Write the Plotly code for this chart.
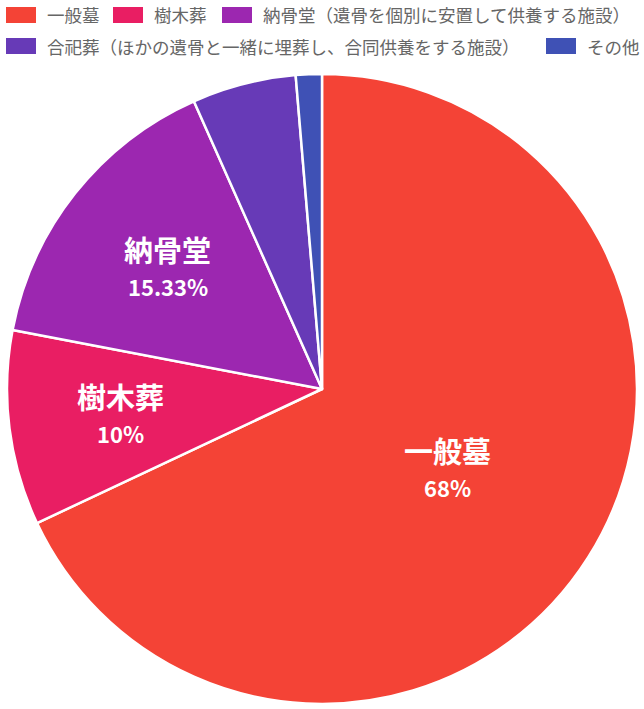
import math
import plotly.graph_objects as go

# 供養の方法（割合）
labels = [
    "一般墓",
    "樹木葬",
    "納骨堂（遺骨を個別に安置して供養する施設）",
    "合祀葬（ほかの遺骨と一緒に埋葬し、合同供養をする施設）",
    "その他",
]
short_labels = ["一般墓", "樹木葬", "納骨堂", "合祀葬", "その他"]
values = [102, 15, 23, 8, 2]
colors = ["#F44336", "#E91E63", "#9C27B0", "#673AB7", "#3F51B5"]

W, H = 644, 709
FONT = "Noto Sans CJK JP"

# pie placement (pixels)
cx, cy, R = 322, 389, 315
# how far out each label sits (fraction of radius)
label_r = [0.47, 0.645, 0.625, 0.6, 0.6]

fig = go.Figure(go.Pie(
    labels=labels,
    values=values,
    textinfo="none",
    marker=dict(colors=colors, line=dict(color="white", width=2.5)),
    sort=False,
    direction="clockwise",
    rotation=0,
    showlegend=False,
    hoverinfo="label+percent",
    domain=dict(x=[(cx - R) / W, (cx + R) / W], y=[1 - (cy + R) / H, 1 - (cy - R) / H]),
))

annotations = []

# slice labels (skip the small ones)
total = sum(values)
cum = 0
for name, v, f in zip(short_labels, values, label_r):
    p = v / total * 100
    mid = (cum + v / 2) / total * 2 * math.pi
    cum += v
    if p < 8:
        continue
    s = f"{p:.2f}".rstrip("0").rstrip(".") + "%"
    px = cx + f * R * math.sin(mid)
    py = cy - f * R * math.cos(mid)
    # name on top, percent below
    annotations.append(dict(
        x=px / W, y=1 - (py - 18) / H, xref="paper", yref="paper",
        text=f"<b>{name}</b>", showarrow=False, xanchor="center", yanchor="middle",
        font=dict(family=FONT, size=29, color="white"),
    ))
    annotations.append(dict(
        x=px / W, y=1 - (py + 19) / H, xref="paper", yref="paper",
        text=f"<b>{s}</b>", showarrow=False, xanchor="center", yanchor="middle",
        font=dict(family=FONT, size=22, color="white"),
    ))

# 凡例（上部に2段）
legend_pos = [(6, 15), (113, 15), (222, 15), (6, 46), (546, 46)]
shapes = []
for (bx, by), name, c in zip(legend_pos, labels, colors):
    shapes.append(dict(
        type="rect", xref="paper", yref="paper",
        x0=bx / W, x1=(bx + 30) / W,
        y0=1 - (by + 8) / H, y1=1 - (by - 8) / H,
        fillcolor=c, line=dict(width=0),
    ))
    annotations.append(dict(
        x=(bx + 39) / W, y=1 - by / H, xref="paper", yref="paper",
        text=name, showarrow=False, xanchor="left", yanchor="middle",
        font=dict(family=FONT, size=17.5, color="#666666"),
    ))

fig.update_layout(
    width=W, height=H,
    margin=dict(l=0, r=0, t=0, b=0),
    paper_bgcolor="white",
    plot_bgcolor="white",
    shapes=shapes,
    annotations=annotations,
)

fig.write_html("out.html", config={"displayModeBar": False},
               post_script="document.body.style.margin='0';")
